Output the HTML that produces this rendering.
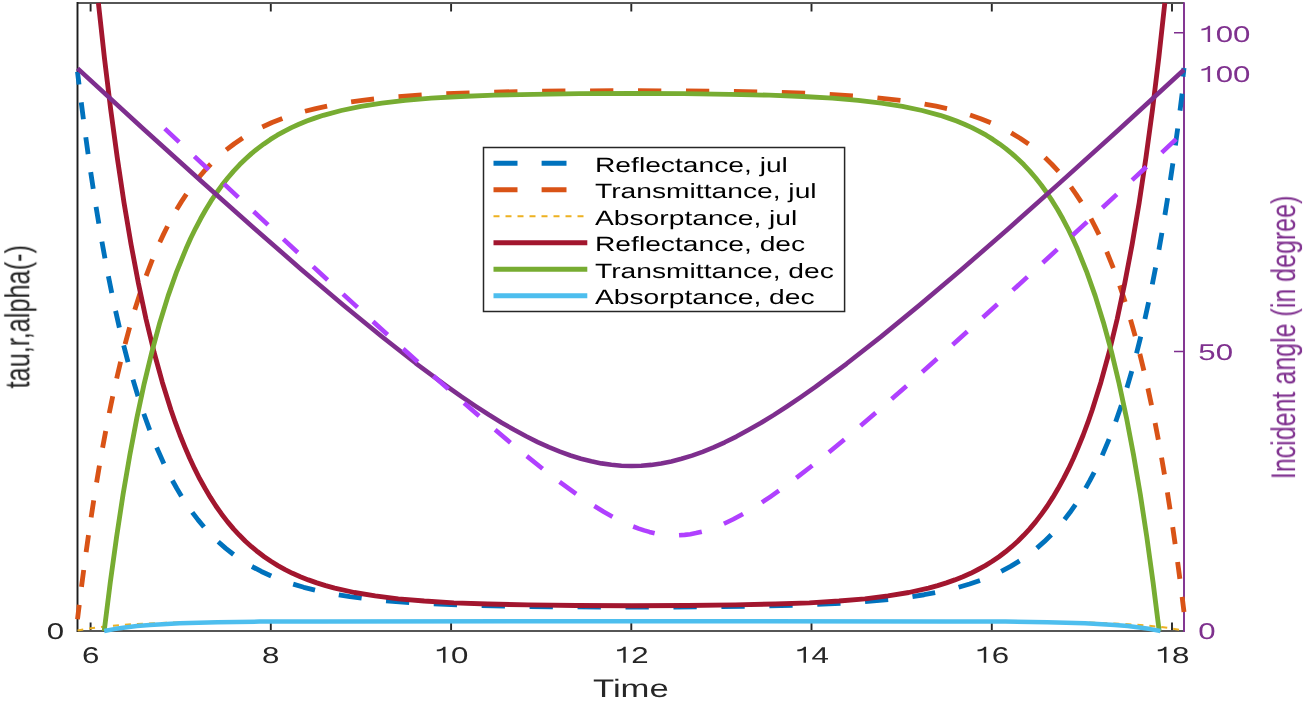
<!DOCTYPE html>
<html><head><meta charset="utf-8"><style>html,body{margin:0;padding:0;background:#fff;overflow:hidden}svg{display:block}text{font-family:"Liberation Sans",sans-serif;text-rendering:geometricPrecision}</style></head>
<body><svg width="1306" height="701" viewBox="0 0 1306 701">
<defs><filter id="bl" x="0" y="0" width="1" height="1"><feGaussianBlur stdDeviation="0.4"/></filter></defs>
<g filter="url(#bl)"><rect width="1306" height="701" fill="#fff"/>
<defs><clipPath id="cp"><rect x="71.50" y="-2.9" width="1118.50" height="640.0"/></clipPath></defs>
<g transform="scale(1.0,1)" fill="none">
<path d="M90.60,631.1L90.60,622.6M90.60,3.1L90.60,11.6M270.80,631.1L270.80,622.6M270.80,3.1L270.80,11.6M451.10,631.1L451.10,622.6M451.10,3.1L451.10,11.6M631.30,631.1L631.30,622.6M631.30,3.1L631.30,11.6M811.50,631.1L811.50,622.6M811.50,3.1L811.50,11.6M991.80,631.1L991.80,622.6M991.80,3.1L991.80,11.6M1172.00,631.1L1172.00,622.6M1172.00,3.1L1172.00,11.6" stroke="#262626" stroke-width="1.9"/>
<path d="M1184.00,351.5L1174.00,351.5M1184.00,32.7L1174.00,32.7" stroke="#7E2F8E" stroke-width="1.6"/>
<path d="M77.50,631.1L1184.00,631.1M77.50,3.1L1184.00,3.1" stroke="#575757" stroke-width="2.0"/>
<path d="M77.50,2.1L77.50,632.1" stroke="#1a1a1a" stroke-width="1.9"/>
<path d="M1184.00,2.3L1184.00,631.9" stroke="#7E2F8E" stroke-width="1.9"/>
<g clip-path="url(#cp)" stroke-linejoin="round">
<path d="M77.50,71.76L79.02,84.45M81.24,102.38L83.41,119.31M85.79,137.22L88.13,154.14M90.71,172.04L93.25,188.94M96.06,206.82L98.83,223.70M101.91,241.56L104.97,258.41M108.38,276.24L111.77,293.06M115.58,310.84L119.39,327.61M123.69,345.34L128.04,362.04M132.98,379.67L138.01,396.27M143.79,413.77L149.74,430.20M156.66,447.48L163.88,463.64M172.40,480.53L176.85,488.51L181.44,496.20M192.30,512.35L198.05,519.90L204.00,527.05M218.21,541.75L225.75,548.39L233.56,554.52M251.96,566.49L261.35,571.47L271.21,576.03M293.19,584.17L303.80,587.28L315.01,590.10M338.79,594.83L349.90,596.57L361.64,598.14M386.04,600.71L409.20,602.49M433.79,603.87L457.04,604.83M481.68,605.57L504.96,606.08M529.61,606.47L552.90,606.73M577.56,606.91L600.85,607.01M625.51,607.06L648.80,607.05M673.46,606.97L696.75,606.83M721.41,606.61L744.69,606.30M769.34,605.84L792.62,605.24M817.25,604.37L840.49,603.26M865.05,601.64L888.16,599.56M912.47,596.56L924.10,594.73L935.15,592.71M958.64,587.24L969.60,584.01L979.98,580.46M1001.22,571.34L1010.60,566.34L1019.57,560.88M1036.90,548.09L1044.20,541.65L1051.26,534.72M1064.52,519.55L1070.05,512.28L1075.46,504.55M1085.65,488.16L1089.95,480.43L1094.17,472.34M1102.23,455.33L1109.09,439.08M1115.69,421.74L1121.38,405.26M1126.93,387.72L1131.77,371.09M1136.53,353.43L1140.73,336.71M1144.90,318.97L1148.60,302.18M1152.30,284.39L1155.60,267.56M1158.92,249.72L1161.90,232.86M1164.91,215.00L1167.62,198.11M1170.37,180.22L1172.86,163.32M1175.38,145.42L1177.68,128.50M1180.02,110.58L1182.15,93.65" stroke="#0072BD" stroke-width="4.85"/>
<path d="M1183.0,76.6L1184.0,68.0" stroke="#0072BD" stroke-width="4.85"/>
<path d="M77.50,619.27L79.25,604.85M81.49,586.93L83.70,570.01M86.12,552.09L88.50,535.18M91.13,517.28L93.72,500.39M96.59,482.51L99.43,465.64M102.59,447.79L105.73,430.94M109.23,413.13L112.73,396.32M116.67,378.55L120.62,361.80M125.09,344.09L129.62,327.42M134.79,309.82L140.07,293.26M146.15,275.82L152.44,259.45M159.79,242.27L163.60,234.11L167.50,226.23M176.65,209.51L181.45,201.63L186.40,194.08M198.15,178.26L204.40,170.90L210.84,164.01M226.22,149.95L234.30,143.73L242.73,137.97M262.26,127.01L272.05,122.54L282.36,118.45M304.96,111.27L315.75,108.54L327.13,106.06M351.11,101.90L362.30,100.36L374.05,98.97M398.51,96.65L421.69,95.03M446.29,93.75L469.54,92.84M494.18,92.14L517.46,91.64M542.12,91.26L565.41,91.01M590.06,90.84L613.35,90.76M638.01,90.74L661.30,90.80M685.96,90.93L709.25,91.13M733.91,91.46L757.19,91.88M781.84,92.50L805.10,93.29M829.71,94.41L852.92,95.83M877.42,97.85L900.45,100.41M924.59,104.05L936.10,106.23L947.01,108.63M970.06,115.01L980.70,118.70L990.79,122.74M1011.18,132.84L1020.10,138.26L1028.60,144.11M1044.93,157.58L1051.80,164.27L1058.44,171.42M1070.93,186.93L1076.15,194.32L1081.27,202.16M1090.93,218.72L1095.05,226.56L1099.04,234.66M1106.75,251.75L1113.33,268.06M1119.67,285.46L1125.15,301.98M1130.51,319.55L1135.19,336.20M1139.80,353.88L1143.88,370.62M1147.92,388.38L1151.52,405.17M1155.11,422.98L1158.33,439.82M1161.56,457.66L1164.46,474.53M1167.40,492.40L1170.04,509.29M1172.72,527.19L1175.15,544.09M1177.62,562.00L1179.86,578.92M1182.14,596.85L1184.00,611.93" stroke="#D95319" stroke-width="4.85"/>
<path d="M77.50,630.51L83.25,629.48M89.14,628.55L95.06,627.72M101.01,626.98L106.97,626.32M112.94,625.74L118.93,625.22M124.92,624.76L130.93,624.36M136.93,624.00L142.95,623.68M148.96,623.40L154.98,623.15M161.00,622.94L167.02,622.74M173.05,622.57L179.07,622.42M185.10,622.28L191.12,622.17M197.15,622.06L203.17,621.97M209.20,621.89L215.23,621.81M221.26,621.75L227.28,621.69M233.31,621.64L239.34,621.60M245.37,621.56L251.39,621.53M257.42,621.49L263.45,621.47M269.48,621.44L275.51,621.42M281.53,621.40L287.56,621.39M293.59,621.37L299.62,621.36M305.65,621.35L311.67,621.34M317.70,621.33L323.73,621.32M329.76,621.32L335.79,621.31M341.81,621.30L347.84,621.30M353.87,621.30L359.90,621.29M365.93,621.29L371.95,621.29M377.98,621.28L384.01,621.28M390.04,621.28L396.07,621.28M402.09,621.27L408.12,621.27M414.15,621.27L420.18,621.27M426.21,621.27L432.23,621.27M438.26,621.27L444.29,621.27M450.32,621.27L456.35,621.27M462.37,621.27L468.40,621.27M474.43,621.27L480.46,621.27M486.49,621.27L492.51,621.26M498.54,621.26L504.57,621.26M510.60,621.26L516.63,621.26M522.65,621.26L528.68,621.26M534.71,621.26L540.74,621.26M546.77,621.26L552.79,621.26M558.82,621.26L564.85,621.26M570.88,621.26L576.91,621.26M582.93,621.26L588.96,621.26M594.99,621.26L601.02,621.26M607.05,621.26L613.07,621.26M619.10,621.26L625.13,621.26M631.16,621.26L637.19,621.26M643.21,621.26L649.24,621.26M655.27,621.26L661.30,621.26M667.33,621.26L673.35,621.26M679.38,621.26L685.41,621.26M691.44,621.26L697.47,621.26M703.49,621.26L709.52,621.26M715.55,621.26L721.58,621.26M727.61,621.26L733.63,621.26M739.66,621.26L745.69,621.26M751.72,621.26L757.75,621.26M763.77,621.26L769.80,621.26M775.83,621.27L781.86,621.27M787.89,621.27L793.91,621.27M799.94,621.27L805.97,621.27M812.00,621.27L818.03,621.27M824.05,621.27L830.08,621.27M836.11,621.27L842.14,621.27M848.17,621.27L854.19,621.27M860.22,621.28L866.25,621.28M872.28,621.28L878.31,621.28M884.33,621.28L890.36,621.29M896.39,621.29L902.42,621.29M908.45,621.30L914.47,621.30M920.50,621.31L926.53,621.31M932.56,621.32L938.59,621.32M944.61,621.33L950.64,621.34M956.67,621.35L962.70,621.36M968.73,621.38L974.75,621.39M980.78,621.41L986.81,621.43M992.84,621.45L998.87,621.47M1004.89,621.50L1010.92,621.53M1016.95,621.57L1022.98,621.61M1029.00,621.65L1035.03,621.70M1041.06,621.76L1047.09,621.83M1053.11,621.90L1059.14,621.98M1065.17,622.08L1071.19,622.19M1077.22,622.31L1083.24,622.44M1089.27,622.60L1095.29,622.77M1101.31,622.97L1107.33,623.20M1113.35,623.45L1119.37,623.74M1125.38,624.06L1131.39,624.43M1137.39,624.84L1143.38,625.31M1149.36,625.84L1155.34,626.43M1161.29,627.10L1167.23,627.86M1173.15,628.71L1179.03,629.66" stroke="#EDB120" stroke-width="2"/>
<path d="M98.40,3.0L104.40,57.8L110.70,109.5L117.30,157.9L124.00,202.7L131.10,244.6L138.40,283.2L146.00,319.0L154.00,352.0L162.30,382.2L170.90,409.8L175.40,422.7L180.00,435.0L184.80,446.8L189.60,458.0L194.60,468.7L199.70,478.8L205.00,488.3L210.40,497.4L215.90,506.0L221.70,514.2L227.60,521.9L233.70,529.1L239.50,535.3L245.40,541.2L251.50,546.7L257.70,551.8L264.20,556.7L270.90,561.3L277.90,565.6L285.10,569.6L292.50,573.3L300.30,576.7L308.40,579.9L316.80,582.9L325.60,585.6L334.70,588.1L354.40,592.5L375.20,595.9L398.30,598.8L424.20,601.0L453.80,602.8L487.90,604.0L528.00,604.9L576.10,605.5L631.60,605.7L687.00,605.5L735.20,604.9L775.30,604.0L809.40,602.8L839.00,601.0L864.90,598.8L888.00,595.9L908.80,592.5L928.50,588.1L937.60,585.6L946.40,582.9L954.80,579.9L962.90,576.7L970.70,573.3L978.10,569.5L985.30,565.6L992.30,561.3L999.00,556.7L1005.50,551.8L1011.70,546.7L1017.80,541.2L1023.70,535.3L1029.50,529.1L1035.60,521.9L1041.50,514.1L1047.30,506.0L1052.80,497.4L1058.20,488.3L1063.50,478.7L1068.60,468.7L1073.60,458.0L1078.40,446.8L1083.20,435.0L1087.80,422.7L1092.30,409.8L1100.90,382.2L1109.20,352.0L1117.20,319.0L1124.80,283.1L1132.10,244.5L1139.20,202.7L1145.90,157.9L1152.50,109.5L1158.80,57.8L1164.80,3.0" stroke="#A2142F" stroke-width="4.85"/>
<path d="M104.20,631.0L110.30,582.3L116.60,536.8L123.10,494.1L129.90,454.6L136.90,417.7L144.20,383.6L151.90,351.9L159.80,322.7L168.10,295.9L176.80,271.3L186.00,248.8L190.70,238.3L195.60,228.3L200.60,218.8L205.70,209.8L210.90,201.2L216.40,193.0L221.90,185.3L227.70,178.0L233.60,171.1L239.70,164.6L245.50,159.0L251.40,153.6L257.60,148.6L263.90,143.9L270.40,139.4L277.20,135.2L284.20,131.3L291.40,127.6L298.90,124.2L306.70,121.0L314.80,118.1L323.30,115.3L341.30,110.5L361.00,106.4L381.90,103.1L405.10,100.3L431.10,98.2L460.50,96.5L494.20,95.2L533.50,94.3L579.70,93.7L631.70,93.5L683.60,93.7L729.90,94.3L769.10,95.2L802.90,96.5L832.30,98.2L858.20,100.3L881.40,103.1L902.40,106.4L922.10,110.5L940.10,115.3L948.50,118.1L956.60,121.0L964.40,124.2L971.90,127.6L979.20,131.3L986.20,135.2L992.90,139.4L999.50,143.9L1005.80,148.6L1011.90,153.6L1017.90,159.0L1023.70,164.6L1029.80,171.1L1035.70,178.0L1041.40,185.3L1047.00,193.0L1052.40,201.2L1057.70,209.8L1062.80,218.8L1067.80,228.3L1072.60,238.3L1077.40,248.8L1086.50,271.3L1095.20,295.9L1103.50,322.7L1111.50,351.8L1119.10,383.5L1126.50,417.9L1133.50,454.8L1140.30,494.3L1146.80,537.0L1153.10,582.6L1159.20,631.0" stroke="#77AC30" stroke-width="4.85"/>
<path d="M104.20,631.0L114.20,629.1L125.10,627.5L136.90,626.1L149.80,624.9L179.60,623.2L217.40,622.2L259.50,621.6L319.40,621.4L632.30,621.3L945.20,621.4L1005.20,621.6L1047.20,622.2L1085.00,623.2L1114.80,624.9L1127.70,626.1L1139.50,627.5L1150.40,629.1L1160.50,631.0" stroke="#4DBEEE" stroke-width="4.5"/>
<path d="M77.50,68.4L143.20,128.7L201.90,181.8L254.40,228.5L301.30,269.4L343.50,305.2L381.40,336.3L415.80,363.3L447.00,386.4L461.50,396.7L475.50,406.1L488.90,414.8L501.70,422.7L514.10,429.8L526.10,436.3L537.70,442.1L548.90,447.2L559.90,451.6L570.50,455.5L581.00,458.7L591.30,461.3L601.40,463.4L611.40,464.8L621.40,465.7L631.30,466.0L641.20,465.7L651.10,464.9L661.10,463.4L671.30,461.4L681.50,458.8L692.00,455.6L702.60,451.8L713.60,447.4L724.80,442.3L736.40,436.6L748.30,430.1L760.70,423.0L773.60,415.1L786.90,406.5L800.80,397.1L815.40,386.9L846.50,363.8L880.80,336.9L918.60,305.9L960.70,270.3L1007.50,229.5L1059.80,182.9L1118.40,130.0L1184.00,69.8" stroke="#7E2F8E" stroke-width="4.6"/>
<path d="M164.80,128.68L179.16,142.11M194.37,156.32L208.75,169.74M223.98,183.94L238.38,197.35M253.64,211.53L268.06,224.92M283.35,239.09L297.81,252.46M313.13,266.61L327.63,279.96M343.01,294.08L357.56,307.40M372.99,321.48L387.61,334.76M403.13,348.79L417.84,362.02M433.47,375.98L448.31,389.13M464.10,403.00L479.12,416.04M495.15,429.77L510.44,442.64M526.83,456.13L542.58,468.70M559.60,481.78L576.14,493.79M594.35,505.98L603.65,511.68L612.49,516.69M633.19,526.51L638.70,528.60L644.10,530.40L649.40,531.91L654.63,533.14M679.05,535.26L684.65,534.88L690.30,534.16L696.00,533.11L701.79,531.72M723.90,523.74L733.25,519.25L743.02,513.98M761.94,502.39L770.25,496.81L778.95,490.73M796.34,477.92L812.35,465.52M828.96,452.17L844.42,439.41M860.60,425.78L875.73,412.81M891.63,399.01L906.55,385.91M922.27,371.99L937.05,358.81M952.64,344.82L967.32,331.58M982.82,317.53L997.42,304.24M1012.85,290.16L1027.40,276.84M1042.77,262.72L1057.28,249.37M1072.61,235.23L1087.08,221.86M1102.38,207.70L1116.82,194.32M1132.09,180.14L1146.51,166.75M1161.76,152.56L1176.16,139.15" stroke="#B040FF" stroke-width="4.6"/>
</g>
<path d="M483.50,147.5L844.60,147.5L844.60,311.5L483.50,311.5Z" fill="#fff" stroke="#262626" stroke-width="1.5"/>
<path d="M493.50,163.2L517.50,163.2M541.60,163.2L566.50,163.2" stroke="#0072BD" stroke-width="4.85"/>
<path d="M493.50,189.7L517.50,189.7M541.60,189.7L566.50,189.7" stroke="#D95319" stroke-width="4.85"/>
<path d="M493.50,216.2L499.50,216.2M505.50,216.2L511.50,216.2M517.50,216.2L523.50,216.2M529.50,216.2L535.50,216.2M541.50,216.2L547.50,216.2M553.50,216.2L559.50,216.2M565.50,216.2L571.50,216.2M577.50,216.2L583.50,216.2" stroke="#EDB120" stroke-width="2"/>
<path d="M493.50,242.7L587.30,242.7" stroke="#A2142F" stroke-width="4.85"/>
<path d="M493.50,269.2L587.30,269.2" stroke="#77AC30" stroke-width="4.85"/>
<path d="M493.50,295.7L587.30,295.7" stroke="#4DBEEE" stroke-width="4.85"/>
</g>
<g font-family="Liberation Sans, sans-serif" opacity="0.995">
<text transform="translate(81.9,662.7) scale(1.37,1)" font-size="22.8" text-anchor="start" fill="#262626">6</text>
<text transform="translate(262.1,662.7) scale(1.37,1)" font-size="22.8" text-anchor="start" fill="#262626">8</text>
<path transform="translate(433.69,662.70) scale(31.236,-22.800)" d="M0.300,0L0.378,0L0.378,0.703L0.318,0.703C0.292,0.635,0.225,0.588,0.100,0.575L0.100,0.497C0.190,0.503,0.258,0.528,0.300,0.562Z" fill="#262626"/><text transform="translate(451.1,662.7) scale(1.37,1)" font-size="22.8" text-anchor="start" fill="#262626">0</text>
<path transform="translate(613.93,662.70) scale(31.236,-22.800)" d="M0.300,0L0.378,0L0.378,0.703L0.318,0.703C0.292,0.635,0.225,0.588,0.100,0.575L0.100,0.497C0.190,0.503,0.258,0.528,0.300,0.562Z" fill="#262626"/><text transform="translate(631.3,662.7) scale(1.37,1)" font-size="22.8" text-anchor="start" fill="#262626">2</text>
<path transform="translate(794.17,662.70) scale(31.236,-22.800)" d="M0.300,0L0.378,0L0.378,0.703L0.318,0.703C0.292,0.635,0.225,0.588,0.100,0.575L0.100,0.497C0.190,0.503,0.258,0.528,0.300,0.562Z" fill="#262626"/><text transform="translate(811.5,662.7) scale(1.37,1)" font-size="22.8" text-anchor="start" fill="#262626">4</text>
<path transform="translate(974.41,662.70) scale(31.236,-22.800)" d="M0.300,0L0.378,0L0.378,0.703L0.318,0.703C0.292,0.635,0.225,0.588,0.100,0.575L0.100,0.497C0.190,0.503,0.258,0.528,0.300,0.562Z" fill="#262626"/><text transform="translate(991.8,662.7) scale(1.37,1)" font-size="22.8" text-anchor="start" fill="#262626">6</text>
<path transform="translate(1154.65,662.70) scale(31.236,-22.800)" d="M0.300,0L0.378,0L0.378,0.703L0.318,0.703C0.292,0.635,0.225,0.588,0.100,0.575L0.100,0.497C0.190,0.503,0.258,0.528,0.300,0.562Z" fill="#262626"/><text transform="translate(1172.0,662.7) scale(1.37,1)" font-size="22.8" text-anchor="start" fill="#262626">8</text>
<text transform="translate(630.9,696.6) scale(1.37,1)" font-size="25.3" text-anchor="middle" fill="#262626">Time</text>
<text transform="translate(64.2,638.8) scale(1.37,1)" font-size="22.8" text-anchor="end" fill="#262626">0</text>
<path transform="translate(1198.30,41.90) scale(31.236,-22.800)" d="M0.300,0L0.378,0L0.378,0.703L0.318,0.703C0.292,0.635,0.225,0.588,0.100,0.575L0.100,0.497C0.190,0.503,0.258,0.528,0.300,0.562Z" fill="#7E2F8E"/><text transform="translate(1215.7,41.9) scale(1.37,1)" font-size="22.8" text-anchor="start" fill="#7E2F8E">0</text><text transform="translate(1233.0,41.9) scale(1.37,1)" font-size="22.8" text-anchor="start" fill="#7E2F8E">0</text>
<path transform="translate(1198.30,82.00) scale(31.236,-22.800)" d="M0.300,0L0.378,0L0.378,0.703L0.318,0.703C0.292,0.635,0.225,0.588,0.100,0.575L0.100,0.497C0.190,0.503,0.258,0.528,0.300,0.562Z" fill="#7E2F8E"/><text transform="translate(1215.7,82.0) scale(1.37,1)" font-size="22.8" text-anchor="start" fill="#7E2F8E">0</text><text transform="translate(1233.0,82.0) scale(1.37,1)" font-size="22.8" text-anchor="start" fill="#7E2F8E">0</text>
<text transform="translate(1198.3,359.8) scale(1.37,1)" font-size="22.8" text-anchor="start" fill="#7E2F8E">50</text>
<text transform="translate(1198.3,639.3) scale(1.37,1)" font-size="22.8" text-anchor="start" fill="#7E2F8E">0</text>
<text transform="translate(29.4,316.7) scale(1.37,1) rotate(-90)" font-size="25.3" text-anchor="middle" fill="#262626">tau,r,alpha(-)</text>
<text transform="translate(1295.2,337.4) scale(1.37,1) rotate(-90)" font-size="25.0" text-anchor="middle" fill="#7E2F8E">Incident angle (in degree)</text>
<text transform="translate(595.0,171.8) scale(1.37,1)" font-size="20.6" text-anchor="start" fill="#000">Reflectance, jul</text>
<text transform="translate(595.0,198.3) scale(1.37,1)" font-size="20.6" text-anchor="start" fill="#000">Transmittance, jul</text>
<text transform="translate(595.0,224.8) scale(1.37,1)" font-size="20.6" text-anchor="start" fill="#000">Absorptance, jul</text>
<text transform="translate(595.0,251.3) scale(1.37,1)" font-size="20.6" text-anchor="start" fill="#000">Reflectance, dec</text>
<text transform="translate(595.0,277.8) scale(1.37,1)" font-size="20.6" text-anchor="start" fill="#000">Transmittance, dec</text>
<text transform="translate(595.0,304.3) scale(1.37,1)" font-size="20.6" text-anchor="start" fill="#000">Absorptance, dec</text>
</g>
</g>
</svg></body></html>
